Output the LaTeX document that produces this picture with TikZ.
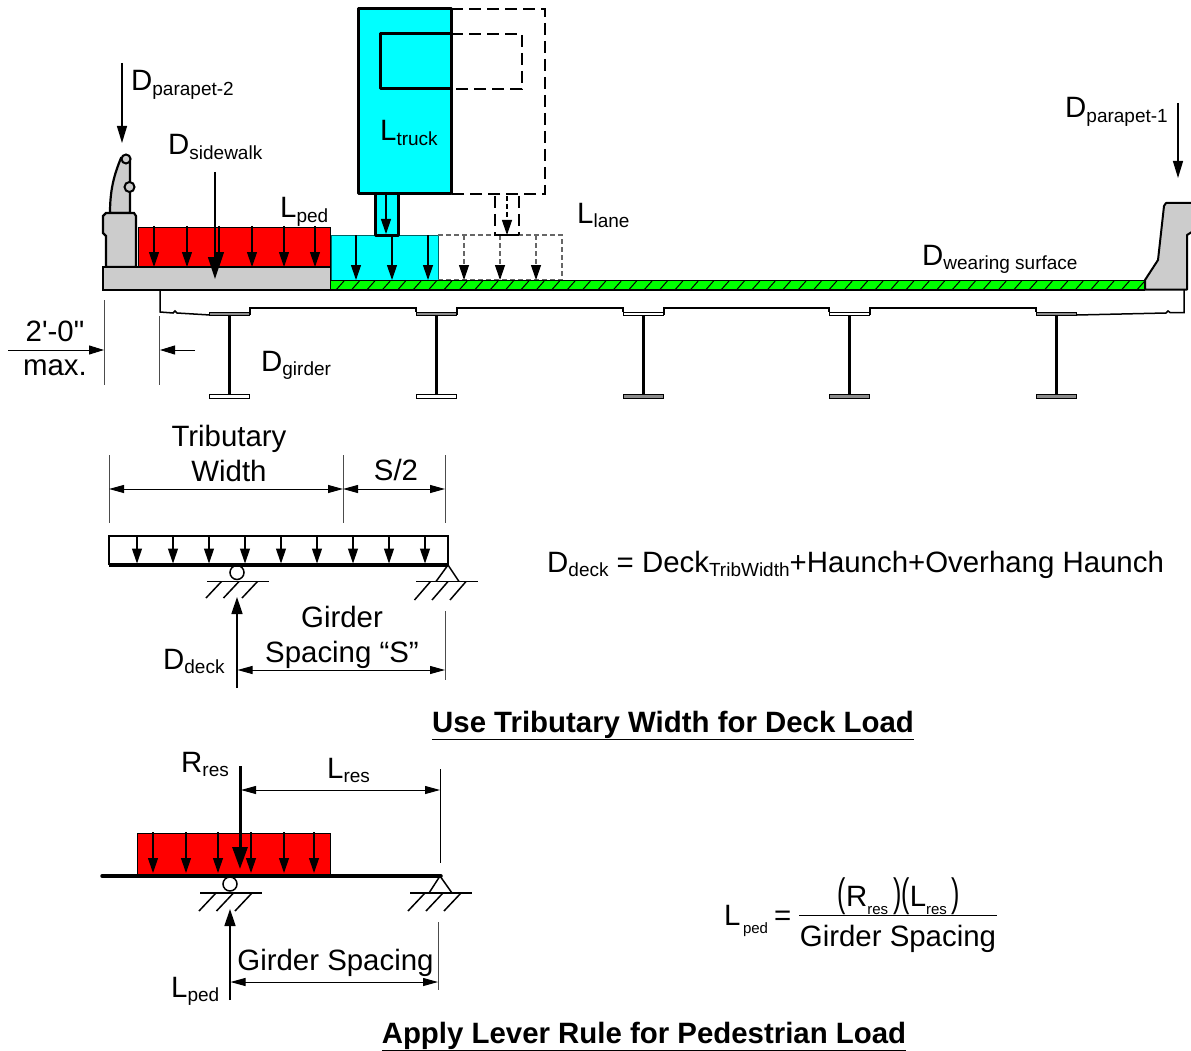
\documentclass[tikz,border=0pt]{standalone}
\usepackage{fontspec}
\setmainfont{Liberation Sans}
\newfontfamily\plainfont{Liberation Sans}
\usetikzlibrary{arrows.meta}
\definecolor{concgray}{gray}{0.8}
\definecolor{truckcyan}{rgb}{0,1,1}
\definecolor{wearinggreen}{rgb}{0,1,0}
\definecolor{pedred}{rgb}{1,0,0}
\newcommand{\lblsub}[2]{#1\raisebox{-0.14em}{\fontsize{19}{22}\selectfont #2}}
\newcommand{\eqsub}[2]{#1\raisebox{-0.3em}{\fontsize{15}{17}\selectfont #2}}
\newcommand{\eqparen}[1]{\scalebox{0.85}[1.35]{#1}}
\tikzset{
	lbl/.style={anchor=base west,inner sep=0pt,font=\fontsize{29.4}{32}\selectfont},
	lblc/.style={anchor=base,inner sep=0pt,font=\fontsize{29.4}{32}\selectfont},
	ttl/.style={anchor=base,inner sep=0pt,font=\fontsize{29.4}{32}\selectfont\bfseries},
	load/.style={line width=1.2pt,-{Triangle[length=15pt,width=10pt]}},
	bigload/.style={line width=1.6pt,-{Triangle[length=22pt,width=14pt]}},
	dimline/.style={line width=1pt,{Triangle[length=15pt,width=8pt]}-{Triangle[length=15pt,width=8pt]}},
	extline/.style={line width=1pt,color=black!70},
	heavy/.style={line width=3pt,line join=round},
	ground/.style={line width=1.5pt},
	dashbox/.style={line width=2pt,dash pattern=on 12pt off 6pt},
	dashlane/.style={line width=1.2pt,color=black!60,dash pattern=on 5pt off 3pt}
}
\begin{document}
\begin{tikzpicture}[x=1pt,y=-1pt]
	\useasboundingbox (0,0) rectangle (1191,1051);
	% left parapet and sidewalk
	\filldraw[fill=concgray,line width=2.2pt] (110,213) .. controls (110,190) and (114,175) .. (121,158) -- (130,158) -- (130,213) -- cycle;
	\filldraw[fill=concgray,line width=2pt] (126,159) circle (4.5);
	\filldraw[fill=concgray,line width=2pt] (129.5,187) circle (5);
	\filldraw[fill=concgray,line width=2.2pt] (106,267) -- (106,236) -- (103,233) -- (103,216) -- (106,213) -- (134,213) -- (136,216) -- (136,267) -- cycle;
	\filldraw[fill=pedred,line width=1.5pt] (138.5,227.5) rectangle (330.5,267);
	\filldraw[fill=concgray,line width=2pt] (103,267) rectangle (331,290);
	\foreach \xa in {154,187,219,252,284,315}
		\draw[load] (\xa,226) -- (\xa,267);
	\draw[bigload] (215,172) -- (215,279);
	% truck and lane
	\filldraw[fill=truckcyan,draw=black!60!truckcyan,line width=1pt] (331,235) rectangle (438,280);
	\filldraw[fill=truckcyan,heavy] (375,194) rectangle (398,235);
	\filldraw[fill=truckcyan,heavy] (358,9) rectangle (451,194);
	\draw[heavy] (451,34) -- (380,34) -- (380,89) -- (451,89);
	\draw[dashbox] (451,9) -- (545,9) -- (545,194) -- (451,194);
	\draw[dashbox] (451,34) -- (522,34) -- (522,89) -- (451,89);
	\draw[load] (386,195) -- (386,234);
	\foreach \xa in {356,392,428}
		\draw[load] (\xa,235) -- (\xa,280);
	\draw[dashlane] (438,235) -- (562,235) -- (562,280) -- (438,280);
	\foreach \xa in {464,500,536}
		\draw[load,dash pattern=on 5pt off 3pt,color=black!60,-{Triangle[length=15pt,width=10pt,color=black,fill=black]}] (\xa,235) -- (\xa,280);
	\draw[line width=2pt,dash pattern=on 12pt off 6pt] (494.5,196) -- (494.5,235);
	\draw[line width=2pt,dash pattern=on 12pt off 6pt] (519,196) -- (519,235);
	\draw[line width=2pt] (494,235) -- (519,235);
	\draw[load,dash pattern=on 5pt off 3pt,-{Triangle[length=15pt,width=10pt]}] (507,196) -- (507,235);
	% wearing surface
	\fill[wearinggreen] (331,281) rectangle (1145,290);
	\foreach \xa in {336,351.4,...,1140}
		\draw[line width=1pt] (\xa,290) -- (\xa+8,281);
	\draw[line width=1pt] (331,280.5) -- (1145,280.5);
	\draw[line width=2pt] (331,290) -- (1145,290);
	% right parapet
	\begin{scope}
		\clip (1100,190) rectangle (1191,300);
		\filldraw[fill=concgray,line width=2pt,line join=round] (1145,289.5) -- (1145,280) -- (1158,260) -- (1164,206) -- (1166,203) -- (1195,203) -- (1195,230) -- (1187,235) -- (1187,289.5) -- cycle;
	\end{scope}
	% deck underside and girders
	\draw[line width=1.5pt] (160,290) -- (160,312) -- (173,313) -- (175,311) -- (177,313) -- (210,315);
	\draw[line width=1.5pt] (250,315) -- (250,308) -- (416,308) -- (416,312);
	\draw[line width=1.5pt] (457,315) -- (457,308) -- (623,308) -- (623,312);
	\draw[line width=1.5pt] (664,315) -- (664,308) -- (829,308) -- (829,312);
	\draw[line width=1.5pt] (870,315) -- (870,308) -- (1036,308) -- (1036,312);
	\draw[line width=1.5pt] (1077,315) -- (1166,313) -- (1168,311) -- (1170,312.5) -- (1184,312.5) -- (1184,290);
	\foreach \xa/\ftop/\fbot in {229.5/45/0,436.5/45/0,643.5/0/45,849.5/0/45,1056.5/45/45} {
		\filldraw[fill=black!\ftop,line width=0.9pt] (\xa-20,312.5) rectangle (\xa+20,315.5);
		\draw[line width=2.5pt] (\xa,315) -- (\xa,395);
		\filldraw[fill=black!\fbot,line width=0.9pt] (\xa-20,394.5) rectangle (\xa+20,398);
	}
	% overhang limit
	\draw[extline] (104,300) -- (104,385);
	\draw[extline] (159,316) -- (159,385);
	\draw[line width=1pt,-{Triangle[length=15pt,width=9pt]}] (8,350) -- (104,350);
	\draw[line width=1pt,-{Triangle[length=15pt,width=9pt]}] (195,350) -- (160,350);
	\draw[bigload,line width=1.2pt,-{Triangle[length=17pt,width=10pt]}] (122,63) -- (122,143);
	\draw[bigload,line width=1.2pt,-{Triangle[length=17pt,width=10pt]}] (1178,103) -- (1178,178);
	% deck load sketch
	\draw[line width=1.5pt] (109,565) -- (109,536) -- (448,536) -- (448,565);
	\draw[line width=3.5pt] (109,565) -- (448,565);
	\foreach \xa in {137,173,...,425}
		\draw[load] (\xa,536) -- (\xa,563.5);
	\foreach \xa in {109,343,445}
		\draw[extline] (\xa,455) -- (\xa,523);
	\draw[dimline] (109,489) -- (343,489);
	\draw[dimline] (343,489) -- (445,489);
	\draw[line width=1.5pt] (237,572.5) circle (7);
	\draw[ground] (207,581.5) -- (269,581.5);
	\foreach \xa in {206,223.5,242}
		\draw[ground] (\xa,598) -- (\xa+15.5,581.5);
	\draw[ground] (436,581.5) -- (448,565) -- (459,581.5);
	\draw[ground] (416,581.5) -- (478,581.5);
	\foreach \xa in {414.5,432,450}
		\draw[ground] (\xa,600) -- (\xa+16,581.5);
	\draw[line width=1.5pt,-{Triangle[length=17pt,width=11pt]}] (237,688) -- (237,597);
	\draw[extline] (445,611) -- (445,680);
	\draw[dimline] (237.5,670) -- (445,670);
	% lever rule sketch
	\filldraw[fill=pedred,line width=1pt] (137.5,833.5) rectangle (330,874);
	\foreach \xa in {153,186,218,251,284,314}
		\draw[load] (\xa,832) -- (\xa,873);
	\draw[line width=3pt,-{Triangle[length=22pt,width=15pt]}] (240,766) -- (240,869);
	\draw[line width=3.5pt,line cap=round] (102,876) -- (441,876);
	\draw[line width=1.5pt] (230,884) circle (7);
	\draw[ground] (200,893) -- (262,893);
	\foreach \xa in {199,216.5,235}
		\draw[ground] (\xa,911) -- (\xa+17,893);
	\draw[ground] (429,893) -- (440,876) -- (452,893);
	\draw[ground] (410,893) -- (472,893);
	\foreach \xa in {408,426,444}
		\draw[ground] (\xa,911) -- (\xa+17,893);
	\draw[extline,color=black] (440,769) -- (440,863);
	\draw[dimline] (241,790) -- (440,790);
	\draw[line width=1.5pt,-{Triangle[length=17pt,width=11pt]}] (230,1000) -- (230,909);
	\draw[extline] (438,922) -- (438,990);
	\draw[dimline] (230.5,982) -- (438,982);
	% labels
	\node[lbl] (parapetTwo) at (131,91) {\lblsub{D}{parapet-2}};
	\node[lbl] (sidewalk) at (168,155) {\lblsub{D}{sidewalk}};
	\node[lbl] (ped) at (280,218) {\lblsub{L}{ped}};
	\node[lbl] (truck) at (380,141) {\lblsub{L}{truck}};
	\node[lbl] (lane) at (577,223) {\lblsub{L}{lane}};
	\node[lbl] (wearing) at (922,265) {\lblsub{D}{wearing surface}};
	\node[lbl] (parapetOne) at (1065,118) {\lblsub{D}{parapet-1}};
	\node[lblc] (maxA) at (55,341) {\plainfont 2'-0"};
	\node[lblc] (maxB) at (55,375) {max.};
	\node[lbl] (girder) at (261,371) {\lblsub{D}{girder}};
	\node[lblc] (tribA) at (229,446) {Tributary};
	\node[lblc] (tribB) at (229,481) {Width};
	\node[lblc] (halfS) at (396,480) {S/2};
	\node[lblc] (spacA) at (342,627) {Girder};
	\node[lblc] (spacB) at (342,662) {Spacing “S”};
	\node[lbl] (deck) at (163,669) {\lblsub{D}{deck}};
	\node[lbl] (deckEq) at (547,572) {\lblsub{D}{deck} = \lblsub{Deck}{TribWidth}+Haunch+Overhang Haunch};
	\node[ttl] (deckTtl) at (673,732) {\underline{Use Tributary Width for Deck Load}};
	\node[lbl] (rres) at (181,772) {\lblsub{R}{res}};
	\node[lbl] (lres) at (327,778) {\lblsub{L}{res}};
	\node[lblc] (spacC) at (335.5,970) {Girder Spacing};
	\node[lbl] (pedB) at (171,997) {\lblsub{L}{ped}};
	\node[lbl] (eqL) at (724,925) {\eqsub{L}{\,ped}};
	\node[lbl] (eqSign) at (774,925) {=};
	\draw[line width=1.2pt] (799,915.5) -- (997,915.5);
	\node[lblc] (eqNum) at (899,906) {\eqparen{(}\eqsub{R}{res}\,\eqparen{)}\eqparen{(}\eqsub{L}{res}\,\eqparen{)}};
	\node[lblc] (eqDen) at (898,946) {Girder Spacing};
	\node[ttl] (pedTtl) at (644,1043) {\underline{Apply Lever Rule for Pedestrian Load}};
\end{tikzpicture}
\end{document}
